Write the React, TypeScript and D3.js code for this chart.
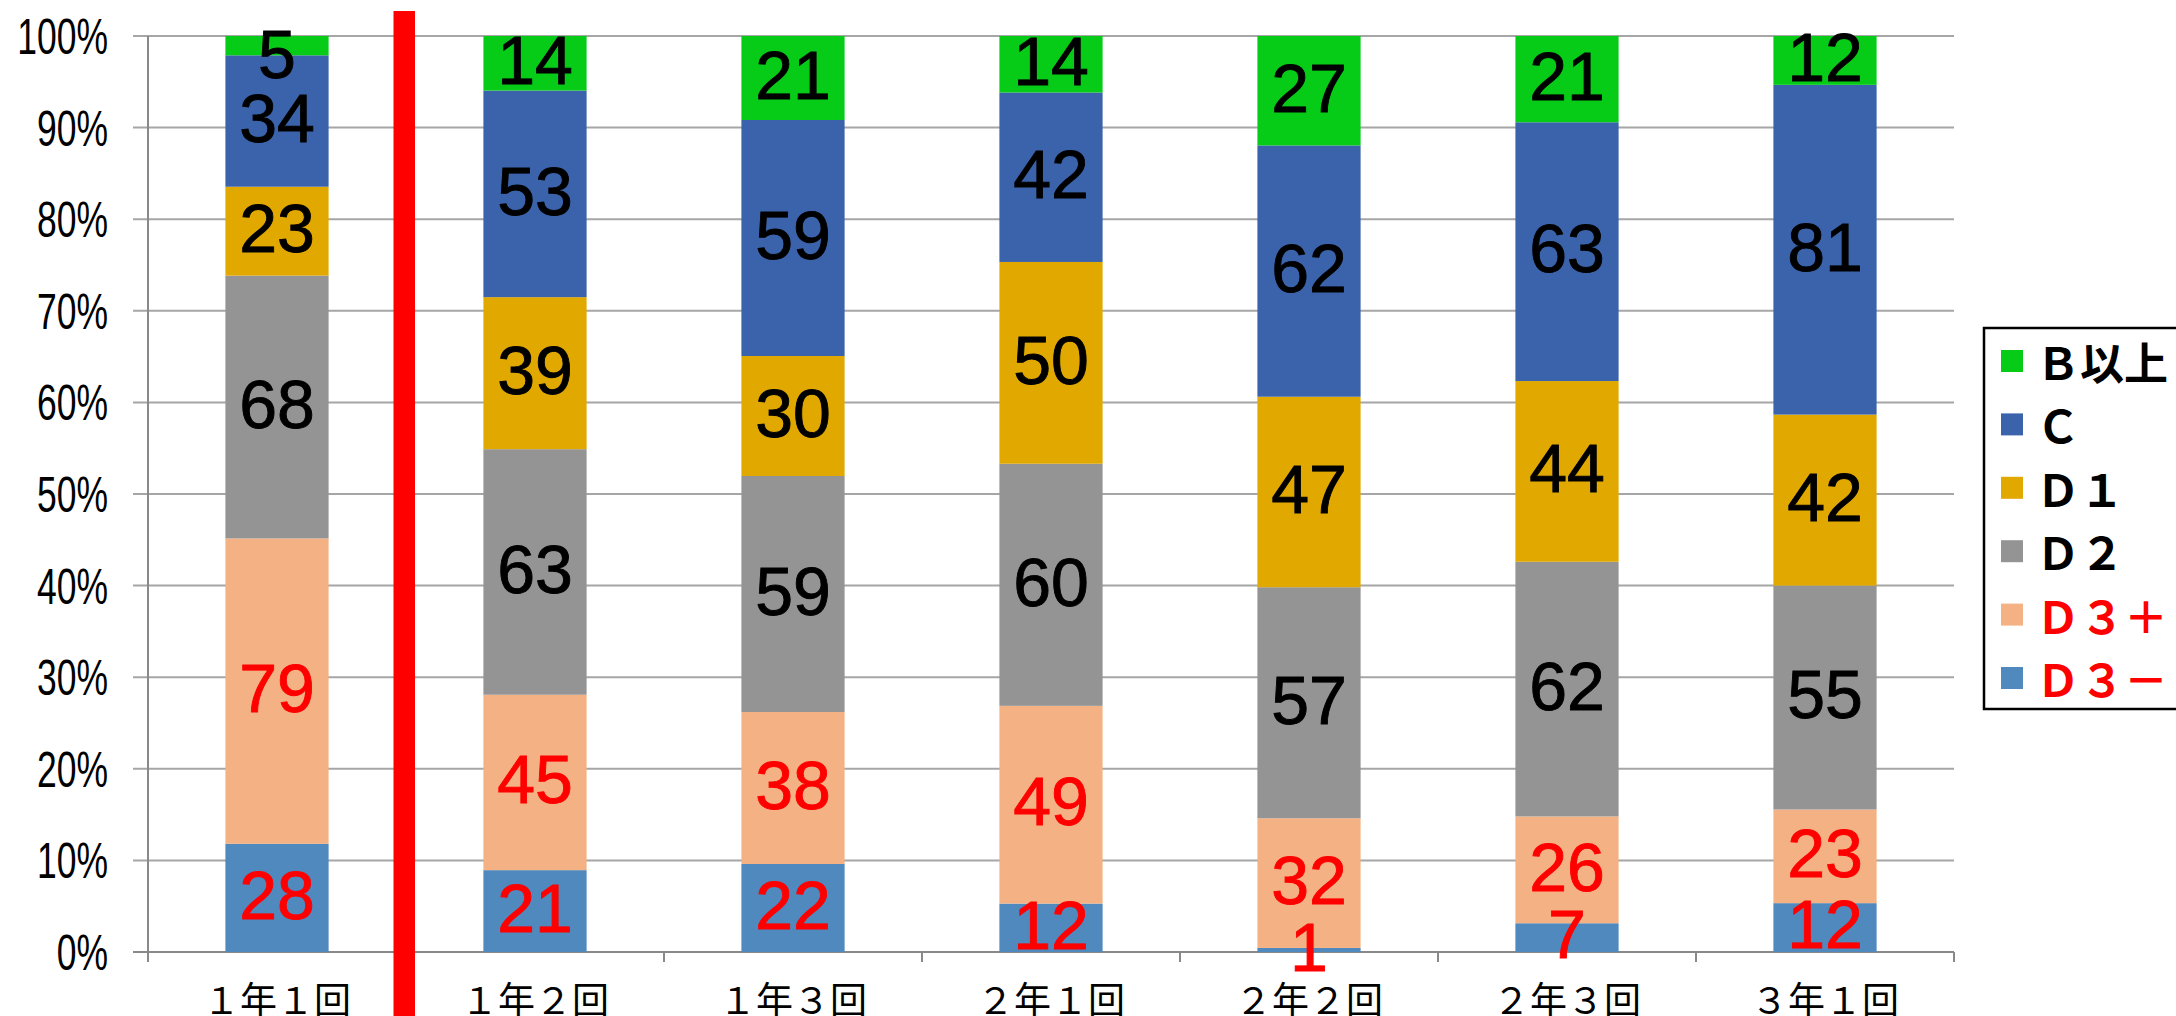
import React from "react";
import * as d3 from "d3";

const categories = ["１年１回", "１年２回", "１年３回", "２年１回", "２年２回", "２年３回", "３年１回"];
const seriesKeys = ["D3m", "D3p", "D2", "D1", "C", "B"];
const seriesNames = ["Ｄ３－", "Ｄ３＋", "Ｄ２", "Ｄ１", "Ｃ", "Ｂ以上"];
const seriesColors = ["#4F89BD", "#F4B183", "#949494", "#E1A900", "#3B63AB", "#06CC18"];
const labelColors = ["#FF0000", "#FF0000", "#000000", "#000000", "#000000", "#000000"];

const valuesB = [5, 14, 21, 14, 27, 21, 12];
const valuesC = [34, 53, 59, 42, 62, 63, 81];
const valuesD1 = [23, 39, 30, 50, 47, 44, 42];
const valuesD2 = [68, 63, 59, 60, 57, 62, 55];
const valuesD3p = [79, 45, 38, 49, 32, 26, 23];
const valuesD3m = [28, 21, 22, 12, 1, 7, 12];

const yTicks = [0, 0.1, 0.2, 0.3, 0.4, 0.5, 0.6, 0.7, 0.8, 0.9, 1.0];

const W = 2176;
const H = 1016;
const left = 148;
const right = 1954;
const top = 36;
const bottom = 952;

export default function App() {
  const rows = categories.map((c, i) => ({
    cat: c,
    D3m: valuesD3m[i],
    D3p: valuesD3p[i],
    D2: valuesD2[i],
    D1: valuesD1[i],
    C: valuesC[i],
    B: valuesB[i],
  }));
  const stack = d3.stack<any>().keys(seriesKeys).offset(d3.stackOffsetExpand);
  const layers = stack(rows);

  const x = d3.scaleBand<string>().domain(categories).range([left, right]).padding(0);
  const y = d3.scaleLinear().domain([0, 1]).range([bottom, top]);
  const bw = x.bandwidth() * 0.4;

  const labelFs = 68;
  const cap = 0.729 * labelFs;

  const boundaries = d3.range(categories.length + 1).map((k) => left + k * x.step());

  return (
    <svg width={W} height={H} style={{ position: "absolute", left: 0, top: 0, background: "#fff" }}>
      <rect x={0} y={0} width={W} height={H} fill="#fff" />
      {yTicks.map((t) => (
        <line key={"g" + t} x1={133} x2={right} y1={y(t)} y2={y(t)} stroke={t === 0 ? "#898989" : "#A6A6A6"} strokeWidth={2} />
      ))}
      <line x1={left} x2={left} y1={top} y2={bottom + 10} stroke="#898989" strokeWidth={2} />
      {boundaries.map((b, i) => (
        <line key={"t" + i} x1={b} x2={b} y1={bottom} y2={bottom + 10} stroke="#898989" strokeWidth={2} />
      ))}
      {yTicks.map((t) => (
        <text
          key={"yl" + t}
          transform={`translate(108, ${y(t) + 18}) scale(0.71, 1)`}
          textAnchor="end"
          fontFamily="'Liberation Sans', Arial, sans-serif"
          fontSize={50}
          fill="#000"
        >
          {Math.round(t * 100)}%
        </text>
      ))}
      {layers.map((layer, si) => (
        <g key={"s" + si} fill={seriesColors[si]}>
          {layer.map((d, ci) => (
            <rect
              key={ci}
              x={(x(categories[ci]) as number) + (x.bandwidth() - bw) / 2}
              y={y(d[1])}
              width={bw}
              height={y(d[0]) - y(d[1])}
            />
          ))}
        </g>
      ))}
      {layers.map((layer, si) => (
        <g key={"l" + si}>
          {layer.map((d, ci) => {
            const mid = (y(d[0]) + y(d[1])) / 2 - 4;
            const cy = Math.max(mid, 53);
            return (
              <text
                key={ci}
                x={(x(categories[ci]) as number) + x.bandwidth() / 2}
                y={cy + cap / 2}
                textAnchor="middle"
                fontFamily="'Liberation Sans', Arial, sans-serif"
                fontSize={labelFs}
                fill={labelColors[si]}
                stroke={labelColors[si]}
                strokeWidth={0.9}
              >
                {(d.data as any)[seriesKeys[si]]}
              </text>
            );
          })}
        </g>
      ))}
      {categories.map((c) => (
        <text
          key={"x" + c}
          x={(x(c) as number) + x.bandwidth() / 2}
          y={998}
          textAnchor="middle"
          dominantBaseline="central"
          fontFamily="'Noto Sans CJK JP', sans-serif"
          fontSize={37}
          fill="#000"
        >
          {c}
        </text>
      ))}
      <rect x={393.5} y={11} width={21.5} height={H - 11} fill="#FF0000" />
      <rect x={1984} y={328} width={260} height={381} fill="#fff" stroke="#000" strokeWidth={2.5} />
      {seriesKeys
        .map((k, i) => i)
        .reverse()
        .map((si, row) => {
          const cy = 361 + row * 63.4;
          return (
            <g key={"lg" + si}>
              <rect x={2001} y={cy - 11} width={22} height={22} fill={seriesColors[si]} />
              <text
                x={2036}
                y={cy}
                dominantBaseline="central"
                fontFamily="'Noto Sans CJK JP', sans-serif"
                fontWeight={700}
                fontSize={44}
                fill={labelColors[si]}
              >
                {seriesNames[si]}
              </text>
            </g>
          );
        })}
    </svg>
  );
}
